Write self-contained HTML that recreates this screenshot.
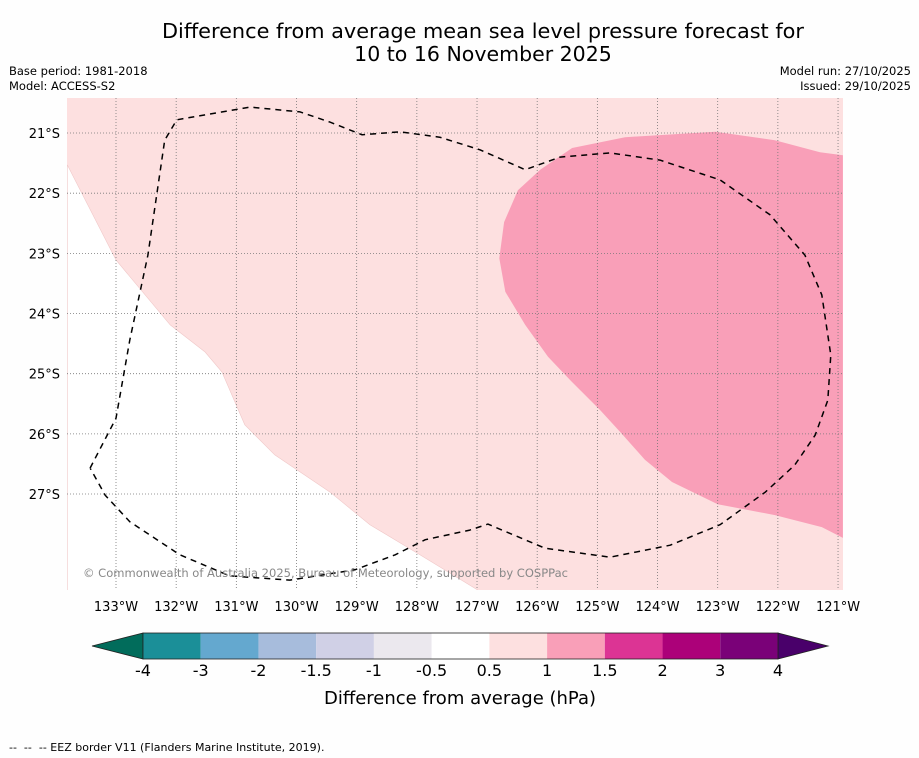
<!DOCTYPE html>
<html><head><meta charset="utf-8"><style>
html,body{margin:0;padding:0;background:#fff;}
svg{display:block;font-family:"DejaVu Sans","Liberation Sans",sans-serif;}
</style></head><body>
<svg id="chart" width="919" height="758" viewBox="0 0 919 758">
<rect x="0" y="0" width="919" height="758" fill="#fefefe"/>
<text x="483" y="38" font-size="20.5" text-anchor="middle" textLength="642" lengthAdjust="spacingAndGlyphs">Difference from average mean sea level pressure forecast for</text>
<text x="483" y="61" font-size="20.5" text-anchor="middle">10 to 16 November 2025</text>
<text x="9" y="75" font-size="11.5">Base period: 1981-2018</text>
<text x="9" y="90" font-size="11.5">Model: ACCESS-S2</text>
<text x="911" y="75" font-size="11.5" text-anchor="end">Model run: 27/10/2025</text>
<text x="911" y="90" font-size="11.5" text-anchor="end">Issued: 29/10/2025</text>
<defs><clipPath id="mapclip"><rect x="67" y="98" width="776" height="492"/></clipPath></defs>
<g id="map" clip-path="url(#mapclip)"></g>
<g id="axes"></g>
<g id="cbar"></g>
<text x="460" y="704" font-size="18" text-anchor="middle">Difference from average (hPa)</text>
<text x="9" y="751" font-size="11" xml:space="preserve" style="white-space:pre">--  --  -- EEZ border V11 (Flanders Marine Institute, 2019).</text>
</svg>
<script>
const lonTicks=[-133,-132,-131,-130,-129,-128,-127,-126,-125,-124,-123,-122,-121];
const latTicks=[21,22,23,24,25,26,27];
const whiteRegionLon=[-133.81,-133,-132.10,-131.52,-131.24,-130.86,-130.36,-129.44,-128.78,-127.95,-126.98,-133.81];
const whiteRegionLat=[21.53,23.11,24.19,24.64,24.97,25.85,26.35,26.97,27.51,28.01,28.60,28.60];
const highRegionLon=[-120.92,-121.30,-122.05,-123.04,-124.54,-125.42,-125.95,-126.32,-126.55,-126.63,-126.53,-126.20,-125.82,-125.45,-124.96,-124.62,-124.21,-123.76,-123.00,-122.05,-121.27,-120.92];
const highRegionLat=[21.37,21.32,21.12,20.98,21.07,21.25,21.61,21.95,22.48,23.08,23.64,24.19,24.72,25.11,25.60,25.97,26.43,26.80,27.17,27.35,27.55,27.73];
const eezLon=[-133.43,-133,-132.77,-132.47,-132.19,-131.99,-130.77,-129.94,-129.44,-128.91,-128.28,-127.62,-126.95,-126.20,-125.62,-124.79,-123.96,-122.96,-122.13,-121.55,-121.27,-121.12,-121.17,-121.38,-121.72,-122.21,-122.96,-123.79,-124.79,-125.87,-126.82,-127.12,-127.86,-128.36,-129.03,-130.11,-131.11,-131.94,-132.77,-133.18,-133.43];
const eezLat=[26.57,25.74,24.44,23.03,21.12,20.78,20.57,20.65,20.82,21.03,20.98,21.07,21.28,21.61,21.40,21.33,21.45,21.78,22.36,23.03,23.69,24.69,25.44,26.02,26.52,26.97,27.51,27.85,28.05,27.90,27.50,27.60,27.76,28.01,28.26,28.43,28.36,28.01,27.46,27.02,26.57];
const cbarLabels=["-4","-3","-2","-1.5","-1","-0.5","0.5","1","1.5","2","3","4"];
const cbarColors=["#1b8f98","#64a8cf","#a7bcdc","#d0d0e6","#ebe8ee","#ffffff","#fde0e0","#f99fb8","#dc3494","#ac0179","#7a0178"];
const cbarLow="#016c5b", cbarHigh="#49006a";

const NS="http://www.w3.org/2000/svg";
const xOf=lon=>116+(lon+133)*60.17;
const yOf=lat=>133+(lat-21)*60.17;
function mk(tag,attrs,parent){const e=document.createElementNS(NS,tag);for(const k in attrs)e.setAttribute(k,attrs[k]);parent.appendChild(e);return e;}
function pts(lons,lats){return lons.map((l,i)=>xOf(l).toFixed(1)+","+yOf(lats[i]).toFixed(1)).join(" ");}
const map=document.getElementById('map'),axes=document.getElementById('axes'),cbar=document.getElementById('cbar');

let r=mk('rect',{x:67,y:98,width:776,height:492,fill:'#fde0e0'},map);


let w=mk('polygon',{points:pts(whiteRegionLon,whiteRegionLat),fill:'#ffffff',stroke:'#f0c8c8','stroke-width':0.6},map);


let h=mk('polygon',{points:pts(highRegionLon,highRegionLat),fill:'#f99fb8'},map);



lonTicks.forEach(l=>{
  const x=xOf(l);
  let g=mk('line',{x1:x,x2:x,y1:98,y2:590,stroke:'#777','stroke-width':0.8,'stroke-dasharray':'1,2'},map);
  
  
  let t=mk('text',{x:x,y:611,'font-size':13,'text-anchor':'middle'},axes);
  t.textContent=Math.abs(l)+"°W";
  
  
});
latTicks.forEach(l=>{
  const y=yOf(l);
  let g=mk('line',{x1:67,x2:843,y1:y,y2:y,stroke:'#777','stroke-width':0.8,'stroke-dasharray':'1,2'},map);
  
  
  let t=mk('text',{x:60,y:y+5,'font-size':13,'text-anchor':'end'},axes);
  t.textContent=l+"°S";
  
  
});
let e=mk('polyline',{points:pts(eezLon,eezLat),fill:'none',stroke:'#000','stroke-width':1.5,'stroke-dasharray':'6,5','stroke-linejoin':'round'},map);


let c=mk('text',{x:83,y:577,'font-size':11.5,fill:'#888',textLength:485,lengthAdjust:'spacingAndGlyphs'},map);
c.textContent="© Commonwealth of Australia 2025, Bureau of Meteorology, supported by COSPPac";



const cx0=143,cx1=778,cy0=633,cy1=659,n=cbarColors.length,sw=(cx1-cx0)/n;
let tl=mk('polygon',{points:`92,646 ${cx0},${cy0} ${cx0},${cy1}`,fill:cbarLow,stroke:'#222','stroke-width':0.8},cbar);


let tr=mk('polygon',{points:`828,646 ${cx1},${cy0} ${cx1},${cy1}`,fill:cbarHigh,stroke:'#222','stroke-width':0.8},cbar);


cbarColors.forEach((col,i)=>{
  let s=mk('rect',{x:cx0+i*sw,y:cy0,width:sw,height:cy1-cy0,fill:col},cbar);
  
  
});
let fr=mk('rect',{x:cx0,y:cy0,width:cx1-cx0,height:cy1-cy0,fill:'none',stroke:'#222','stroke-width':0.8},cbar);


cbarLabels.forEach((lab,i)=>{
  let t=mk('text',{x:cx0+i*sw,y:676,'font-size':16,'text-anchor':'middle'},cbar);
  t.textContent=lab;
  
  
});
</script>
</body></html>
